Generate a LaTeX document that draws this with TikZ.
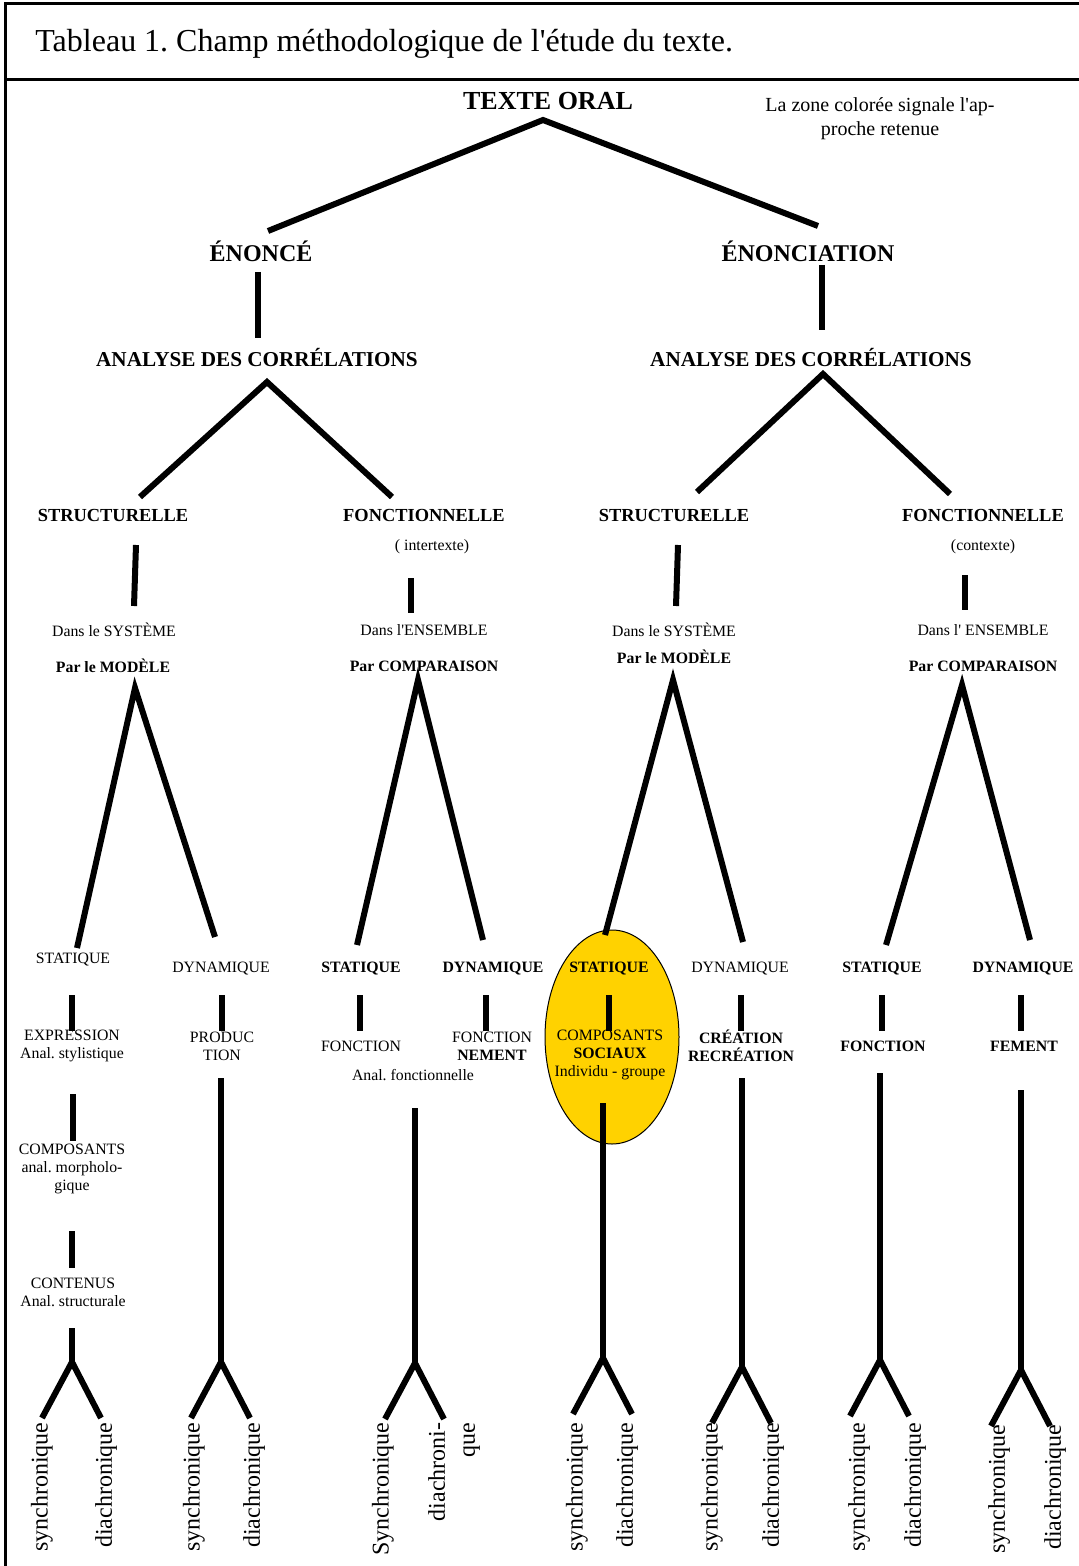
\documentclass[tikz,border=0pt]{standalone}
\usepackage{fontspec}
\setmainfont{Liberation Serif}[Ligatures=TeXOff]
\definecolor{gold}{RGB}{255,210,0}
\frenchspacing
\tikzset{
  ln/.style={line width=3pt},
  frameline/.style={line width=1.5pt},
  sm/.style={font=\fontsize{7.9}{9}\selectfont, inner sep=0pt, align=center},
  smb/.style={font=\fontsize{7.9}{9}\selectfont\bfseries, inner sep=0pt, align=center},
  hd/.style={font=\fontsize{9.2}{11}\selectfont\bfseries, inner sep=0pt, align=center},
  ana/.style={font=\fontsize{10.6}{12}\selectfont\bfseries, inner sep=0pt},
  big/.style={font=\fontsize{12}{14}\selectfont\bfseries, inner sep=0pt},
  rot/.style={rotate=90, anchor=east, inner sep=0pt, align=right, font=\fontsize{12}{15}\selectfont}
}
\begin{document}
\begin{tikzpicture}[x=0.5pt,y=-0.5pt]
\useasboundingbox (0,0) rectangle (1079,1566);
% frame
\coordinate (fbl) at (5,1566);
\coordinate (ftl) at (5,4);
\coordinate (ftr) at (1079,4);
\coordinate (fml) at (5,80);
\coordinate (fmr) at (1079,80);
\draw[frameline] (fbl) -- (ftl) -- (ftr);
\draw[frameline] (fml) -- (fmr);
\node[anchor=base west, inner sep=0pt, font=\fontsize{16}{18}\selectfont] (title) at (35,52) {Tableau 1. Champ méthodologique de l'étude du texte.};

% highlighted zone
\draw[fill=gold, line width=0.5pt] (612,1037) ellipse [x radius=33.5pt, y radius=53.5pt];

% top levels
\node[font=\fontsize{13}{15}\selectfont\bfseries, inner sep=0pt] (texte) at (548,101) {TEXTE ORAL};
\node[font=\fontsize{10}{12}\selectfont, inner sep=0pt, align=center] (note) at (880,119) {La zone colorée signale l'ap-\\proche retenue};
\node[big] (enonce) at (261,251) {ÉNONCÉ};
\node[big] (enonciation) at (808,251) {ÉNONCIATION};
\node[ana] (anaL) at (257,358) {ANALYSE DES CORRÉLATIONS};
\node[ana] (anaR) at (811,358) {ANALYSE DES CORRÉLATIONS};

\node[hd] (s1) at (113,515) {STRUCTURELLE};
\node[hd] (f2) at (424,515) {FONCTIONNELLE};
\node[hd] (s3) at (674,515) {STRUCTURELLE};
\node[hd] (f4) at (983,515) {FONCTIONNELLE};
\node[sm] (inter) at (432,547) {( intertexte)};
\node[sm] (cont) at (983,547) {(contexte)};

\node[sm] (d1) at (114,630) {Dans le SYSTÈME};
\node[sm] (d2) at (424,630) {Dans l'ENSEMBLE};
\node[sm] (d3) at (674,630) {Dans le SYSTÈME};
\node[sm] (d4) at (983,630) {Dans l' ENSEMBLE};
\node[smb] (p1) at (113,666) {Par le MODÈLE};
\node[smb] (p2) at (424,666) {Par COMPARAISON};
\node[smb] (p3) at (674,657) {Par le MODÈLE};
\node[smb] (p4) at (983,666) {Par COMPARAISON};

% static / dynamic
\node[sm] (st1) at (73,960) {STATIQUE};
\node[sm] (dy1) at (221,969) {DYNAMIQUE};
\node[smb] (st2) at (361,969) {STATIQUE};
\node[smb] (dy2) at (493,969) {DYNAMIQUE};
\node[smb] (st3) at (609,969) {STATIQUE};
\node[sm] (dy3) at (740,969) {DYNAMIQUE};
\node[smb] (st4) at (882,969) {STATIQUE};
\node[smb] (dy4) at (1023,969) {DYNAMIQUE};

\node[sm] (expr) at (72,1046) {EXPRESSION\\Anal. stylistique};
\node[sm] (prod) at (222,1046) {PRODUC\\TION};
\node[sm] (fct2) at (361,1046) {FONCTION};
\node[sm] (anf) at (413,1075) {Anal. fonctionnelle};
\node[sm] (fctn) at (492,1046) {FONCTION\\\textbf{NEMENT}};
\node[sm] (comp3) at (610,1055) {COMPOSANTS\\\textbf{SOCIAUX}\\Individu - groupe};
\node[smb] (crea) at (741,1046) {CRÉATION\\RECRÉATION};
\node[smb] (fct4) at (883,1046) {FONCTION};
\node[smb] (fem) at (1024,1046) {FEMENT};

\node[sm] (compo) at (72,1169) {COMPOSANTS\\anal. morpholo-\\gique};
\node[sm] (conten) at (73,1292) {CONTENUS\\Anal. structurale};

% coordinates for connectors
\coordinate (tA) at (543,120);
\coordinate (tL) at (268,231);
\coordinate (tR) at (818,226);
\coordinate (vL1) at (258,272); \coordinate (vL2) at (258,338);
\coordinate (vR1) at (822,265); \coordinate (vR2) at (822,330);
\coordinate (aLA) at (267,382); \coordinate (aLL) at (140,497); \coordinate (aLR) at (392,497);
\coordinate (aRA) at (823,374); \coordinate (aRL) at (697,492); \coordinate (aRR) at (950,494);
\coordinate (c1a) at (136,545); \coordinate (c1b) at (134,606);
\coordinate (c2a) at (411,578); \coordinate (c2b) at (411,613);
\coordinate (c3a) at (678,545); \coordinate (c3b) at (676,606);
\coordinate (c4a) at (965,575); \coordinate (c4b) at (965,610);
\coordinate (V1A) at (135,688); \coordinate (V1L) at (77,948); \coordinate (V1R) at (215,937);
\coordinate (V2A) at (418,680); \coordinate (V2L) at (357,945); \coordinate (V2R) at (483,940);
\coordinate (V3A) at (673,680); \coordinate (V3L) at (605,935); \coordinate (V3R) at (743,942);
\coordinate (V4A) at (962,685); \coordinate (V4L) at (886,945); \coordinate (V4R) at (1030,940);

\draw[ln] (tL) -- (tA) -- (tR);
\draw[ln] (vL1) -- (vL2);
\draw[ln] (vR1) -- (vR2);
\draw[ln] (aLL) -- (aLA) -- (aLR);
\draw[ln] (aRL) -- (aRA) -- (aRR);
\draw[ln] (c1a) -- (c1b);
\draw[ln] (c2a) -- (c2b);
\draw[ln] (c3a) -- (c3b);
\draw[ln] (c4a) -- (c4b);
\draw[ln] (V1L) -- (V1A) -- (V1R);
\draw[ln] (V2L) -- (V2A) -- (V2R);
\draw[ln] (V3L) -- (V3A) -- (V3R);
\draw[ln] (V4L) -- (V4A) -- (V4R);

% short ticks
\foreach \n/\x in {k1/72,k2/222,k3/360,k4/486,k5/609,k6/741,k7/882,k8/1021}{
  \coordinate (\n a) at (\x,995);
  \coordinate (\n b) at (\x,1031);
  \draw[ln] (\n a) -- (\n b);
}
\coordinate (e1a) at (73,1094); \coordinate (e1b) at (73,1141);
\coordinate (e2a) at (72,1231); \coordinate (e2b) at (72,1268);
\draw[ln] (e1a) -- (e1b);
\draw[ln] (e2a) -- (e2b);

% long stems and forks: name/x/top/apex
\foreach \n/\x/\t/\a in {g1/72/1328/1362, g2/221/1078/1362, g3/415/1108/1363, g4/603/1103/1358, g5/742/1078/1367, g6/880/1073/1360, g7/1021/1090/1370}{
  \coordinate (\n t) at (\x,\t);
  \coordinate (\n a) at (\x,\a);
  \coordinate (\n l) at ({\x-30},{\a+56});
  \coordinate (\n r) at ({\x+29},{\a+56});
  \draw[ln] (\n t) -- (\n a);
  \draw[ln] (\n l) -- (\n a) -- (\n r);
}

% rotated leaves
\node[rot] (sy1) at (42,1422) {synchronique};
\node[rot] (di1) at (106,1422) {diachronique};
\node[rot] (sy2) at (194,1422) {synchronique};
\node[rot] (di2) at (254,1422) {diachronique};
\node[rot] (sy3) at (383,1422) {Synchronique};
\node[rot] (di3) at (454,1422) {diachroni-\\que};
\node[rot] (sy4) at (577,1422) {synchronique};
\node[rot] (di4) at (627,1422) {diachronique};
\node[rot] (sy5) at (712,1422) {synchronique};
\node[rot] (di5) at (773,1422) {diachronique};
\node[rot] (sy6) at (859,1422) {synchronique};
\node[rot] (di6) at (915,1422) {diachronique};
\node[rot] (sy7) at (999,1424) {synchronique};
\node[rot] (di7) at (1055,1424) {diachronique};
\end{tikzpicture}
\end{document}
